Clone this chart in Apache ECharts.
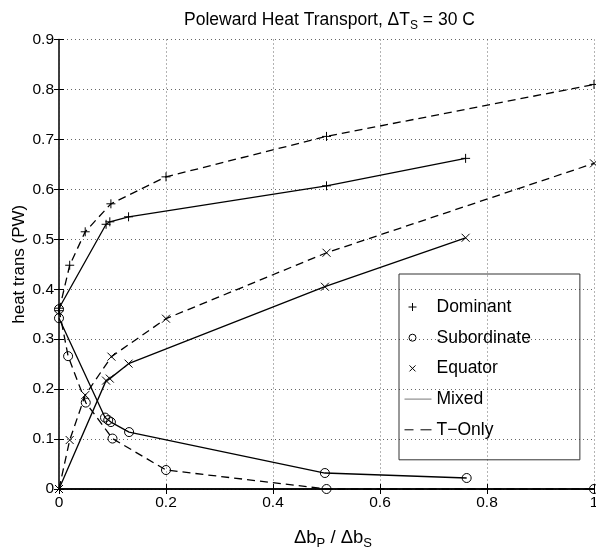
<!DOCTYPE html>
<html>
<head>
<meta charset="utf-8">
<script src="https://cdn.jsdelivr.net/npm/echarts@6/dist/echarts.min.js"></script>
<style>
  html,body{margin:0;padding:0;background:#fff;}
  #chart{width:596px;height:548px;}
</style>
</head>
<body>
<div id="chart"></div>
<script>
// tick values
const xTicks=[0,0.2,0.4,0.6,0.8,1];
const yTicks=[0,0.1,0.2,0.3,0.4,0.5,0.6,0.7,0.8,0.9];

// Mixed runs (solid lines), [dbP/dbS, heat trans PW]
const mixedDominant=[[0,0.362],[0.088,0.53],[0.095,0.535],[0.13,0.545],[0.5,0.607],[0.76,0.662]];
const mixedSubordinate=[[0,0.342],[0.086,0.143],[0.092,0.138],[0.097,0.134],[0.131,0.114],[0.497,0.032],[0.762,0.022]];
const mixedEquator=[[0,0],[0.088,0.217],[0.095,0.221],[0.13,0.251],[0.497,0.405],[0.76,0.503]];

// T-Only runs (dashed lines)
const tonlyDominant=[[0,0.357],[0.02,0.448],[0.049,0.515],[0.097,0.571],[0.2,0.625],[0.5,0.706],[1,0.81]];
const tonlySubordinate=[[0,0.36],[0.017,0.266],[0.05,0.173],[0.1,0.101],[0.2,0.038],[0.5,0],[1,0]];
const tonlyEquator=[[0,0],[0.02,0.098],[0.049,0.188],[0.098,0.265],[0.2,0.341],[0.5,0.473],[1,0.652]];

const FONT='"Liberation Sans", Arial, Helvetica, sans-serif';
const PLUS='path://M0,5L10,5M5,0L5,10';
const CROSS='path://M0,0L10,10M10,0L0,10';
const RING='path://M10,5A5,5 0 1 1 0,5A5,5 0 1 1 10,5';

function mk(name,data,symbol,size,dashed){
  return {
    name:name,
    type:'line',
    data:data,
    symbol:symbol,
    symbolSize:size,
    clip:false,
    lineStyle:{color:'#000',width:1.3,type:dashed?[8,5]:'solid'},
    itemStyle:{color:'rgba(0,0,0,0)',borderColor:'#000',borderWidth:1},
    z:3
  };
}
// dummy series only so the legend has entries
function legendOnly(name){
  return {name:name,type:'line',data:[],
    itemStyle:{color:'rgba(0,0,0,0)',borderColor:'#000',borderWidth:1},
    lineStyle:{color:'#000'}};
}

const legendIcons={
  'Dominant':'path://M0,0M27,14M4,7L12,7M8,3L8,11',
  'Subordinate':'path://M0,0M27,14M11.5,7A3.5,3.5 0 1 1 4.5,7A3.5,3.5 0 1 1 11.5,7',
  'Equator':'path://M0,0M27,14M5,4L11,10M11,4L5,10',
  'Mixed':'path://M0,0M27,14M0,7L27,7',
  'T\u2212Only':'path://M0,0M27,14M0,7L9,7M16,7L27,7'
};

const chart=echarts.init(document.getElementById('chart'));
const axisLbl={fontFamily:FONT,fontSize:15.5,color:'#000'};
chart.setOption({
  animation:false,
  backgroundColor:'#fff',
  title:{
    text:'{a|Poleward Heat Transport, \u0394T}{s|S}{a| = 30 C}',
    left:184,top:8,padding:0,
    textStyle:{fontWeight:'normal',rich:{
      a:{fontFamily:FONT,fontSize:17.5,fontWeight:'normal',lineHeight:24,color:'#000'},
      s:{fontFamily:FONT,fontSize:12,fontWeight:'normal',lineHeight:12,verticalAlign:'bottom',color:'#000'}
    }}
  },
  grid:{left:59,right:2,top:39.5,bottom:59,show:false,outerBoundsMode:'none'},
  legend:{
    orient:'vertical',left:399,top:274,
    padding:[23,49,20,5],
    itemWidth:27,itemHeight:14,itemGap:10.7,
    borderColor:'#333',borderWidth:1,
    backgroundColor:'transparent',
    selectedMode:false,
    itemStyle:{borderWidth:1},
    textStyle:{fontFamily:FONT,fontSize:17.5,color:'#000',lineHeight:20},
    data:Object.keys(legendIcons).map(n=>({
      name:n,icon:legendIcons[n],
      itemStyle:{color:'rgba(0,0,0,0)',borderColor:n==='Mixed'?'#777':'#000',borderWidth:1}
    }))
  },
  xAxis:[{
    type:'value',min:xTicks[0],max:xTicks[xTicks.length-1],interval:0.2,
    name:'{a|\u0394b}{s|P}{a| / \u0394b}{s|S}',
    nameLocation:'middle',nameGap:37,nameMoveOverlap:false,
    nameTextStyle:{padding:[0,0,0,13],rich:{
      a:{fontFamily:FONT,fontSize:18.5,lineHeight:24,color:'#000'},
      s:{fontFamily:FONT,fontSize:13,lineHeight:13,verticalAlign:'bottom',color:'#000'}
    }},
    axisLine:{show:true,lineStyle:{color:'#000',width:1.5}},
    axisTick:{show:true,inside:true,length:5,lineStyle:{color:'#000'}},
    axisLabel:Object.assign({margin:6},axisLbl),
    splitLine:{show:true,lineStyle:{color:'#666',type:[1,3],width:1}}
  },{
    type:'value',position:'top',min:0,max:1,interval:0.2,
    axisLine:{show:true,lineStyle:{color:'#000',width:1.5}},
    axisTick:{show:true,inside:true,length:5,lineStyle:{color:'#000'}},
    axisLabel:{show:false},splitLine:{show:false}
  }],
  yAxis:[{
    type:'value',min:yTicks[0],max:yTicks[yTicks.length-1],interval:0.1,
    name:'heat trans (PW)',nameLocation:'middle',nameGap:31,nameMoveOverlap:false,
    nameTextStyle:{fontFamily:FONT,fontSize:17,color:'#000'},
    axisLine:{show:true,lineStyle:{color:'#333',width:1.5}},
    axisTick:{show:true,inside:true,length:5,lineStyle:{color:'#000'}},
    axisLabel:Object.assign({margin:5},axisLbl),
    splitLine:{show:true,lineStyle:{color:'#666',type:[1,3],width:1}}
  },{
    type:'value',position:'right',min:0,max:0.9,interval:0.1,
    axisLine:{show:true,lineStyle:{color:'#333',width:1.5}},
    axisTick:{show:true,inside:true,length:5,lineStyle:{color:'#000'}},
    axisLabel:{show:false},splitLine:{show:false}
  }],
  series:[
    mk('mixedDominant',mixedDominant,PLUS,9,false),
    mk('mixedSubordinate',mixedSubordinate,RING,9,false),
    mk('mixedEquator',mixedEquator,CROSS,8,false),
    mk('tonlyDominant',tonlyDominant,PLUS,9,true),
    mk('tonlySubordinate',tonlySubordinate,RING,9,true),
    mk('tonlyEquator',tonlyEquator,CROSS,8,true),
    legendOnly('Dominant'),legendOnly('Subordinate'),legendOnly('Equator'),
    legendOnly('Mixed'),legendOnly('T\u2212Only')
  ]
});
</script>
</body>
</html>
